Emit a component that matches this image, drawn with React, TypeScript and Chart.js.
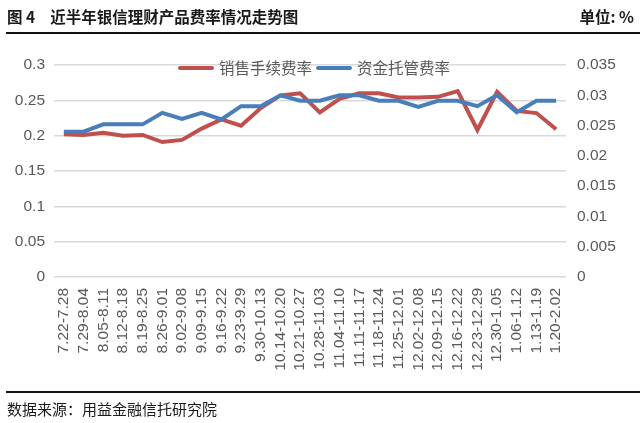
import React, { useEffect, useRef } from "react";
import { Chart, registerables } from "chart.js";

Chart.register(...registerables);

const categories = [
  "7.22-7.28", "7.29-8.04", "8.05-8.11", "8.12-8.18", "8.19-8.25", "8.26-9.01",
  "9.02-9.08", "9.09-9.15", "9.16-9.22", "9.23-9.29", "9.30-10.13", "10.14-10.20",
  "10.21-10.27", "10.28-11.03", "11.04-11.10", "11.11-11.17", "11.18-11.24",
  "11.25-12.01", "12.02-12.08", "12.09-12.15", "12.16-12.22", "12.23-12.29",
  "12.30-1.05", "1.06-1.12", "1.13-1.19", "1.20-2.02",
];

const salesFee = [
  0.202, 0.201, 0.204, 0.2, 0.201, 0.191, 0.194, 0.21, 0.223, 0.214, 0.239, 0.257,
  0.26, 0.233, 0.252, 0.26, 0.26, 0.254, 0.254, 0.255, 0.263, 0.208, 0.262, 0.235,
  0.232, 0.209,
];

const custodyFee = [
  0.024, 0.024, 0.0252, 0.0252, 0.0252, 0.0271, 0.0261, 0.0271, 0.026, 0.0282,
  0.0282, 0.03, 0.0291, 0.0291, 0.03, 0.03, 0.0291, 0.0291, 0.0281, 0.0291, 0.0291,
  0.0282, 0.03, 0.0272, 0.0291, 0.0291,
];

const seriesNames = ["销售手续费率", "资金托管费率"];
const titleText = "近半年银信理财产品费率情况走势图";
const unitText = "单位: %";
const sourceText = "数据来源：用益金融信托研究院";

const RED = "#c0504d";
const BLUE = "#4a7ebb";
const TICK_COLOR = "#595959";
const TICK_FONT = { family: "'Liberation Sans', Arial, sans-serif", size: 15.5 };
const LEGEND_FONT = "15.5px 'Noto Sans CJK SC', sans-serif";

const topLegend = {
  id: "topLegend",
  afterDatasetsDraw(chart: any) {
    const ctx = chart.ctx;
    const area = chart.chartArea;
    const items = chart.data.datasets.map((d: any) => ({ label: d.label, color: d.borderColor }));
    const lineW = 36;
    const gapText = 5;
    const gapItem = 4;
    ctx.save();
    ctx.font = LEGEND_FONT;
    const widths = items.map((it: any) => lineW + gapText + ctx.measureText(it.label).width);
    const total = widths.reduce((a: number, b: number) => a + b, 0) + gapItem * (items.length - 1);
    let x = (area.left + area.right) / 2 - total / 2 + 4;
    const y = area.top + 3;
    items.forEach((it: any, i: number) => {
      ctx.strokeStyle = it.color;
      ctx.lineWidth = 4;
      ctx.lineCap = "round";
      ctx.beginPath();
      ctx.moveTo(x + 2, y);
      ctx.lineTo(x + lineW - 2, y);
      ctx.stroke();
      ctx.fillStyle = TICK_COLOR;
      ctx.textBaseline = "middle";
      ctx.textAlign = "left";
      ctx.fillText(it.label, x + lineW + gapText, y);
      x += widths[i] + gapItem;
    });
    ctx.restore();
  },
};

export default function App() {
  const canvasRef = useRef<HTMLCanvasElement | null>(null);

  useEffect(() => {
    document.body.style.margin = "0";
    const canvas = canvasRef.current;
    if (!canvas) return;
    const chart = new Chart(canvas, {
      type: "line",
      data: {
        labels: categories,
        datasets: [
          {
            label: seriesNames[0],
            data: salesFee,
            borderColor: RED,
            backgroundColor: RED,
            borderWidth: 4,
            pointRadius: 0,
            tension: 0,
            yAxisID: "y",
            order: 1,
          },
          {
            label: seriesNames[1],
            data: custodyFee,
            borderColor: BLUE,
            backgroundColor: BLUE,
            borderWidth: 4,
            pointRadius: 0,
            tension: 0,
            yAxisID: "y1",
            order: 0,
          },
        ],
      },
      options: {
        animation: false,
        responsive: false,
        maintainAspectRatio: false,
        layout: { padding: { top: 65, left: 0, right: 0, bottom: 0 } },
        plugins: {
          tooltip: { enabled: false },
          legend: { display: false },
        },
        scales: {
          x: {
            offset: true,
            grid: { display: false },
            border: { display: false },
            ticks: {
              autoSkip: false,
              minRotation: 90,
              maxRotation: 90,
              color: TICK_COLOR,
              font: TICK_FONT,
              padding: 3,
            },
            afterFit: (s: any) => {
              s.height = 146;
            },
          },
          y: {
            position: "left",
            min: 0,
            max: 0.3,
            ticks: {
              stepSize: 0.05,
              color: TICK_COLOR,
              font: TICK_FONT,
              padding: 9,
              callback: (v: any) => String(Number(Number(v).toFixed(3))),
            },
            grid: { color: "#d9d9d9", lineWidth: 1.5, drawTicks: false },
            border: { display: false },
            afterFit: (s: any) => {
              s.width = 54;
            },
          },
          y1: {
            position: "right",
            min: 0,
            max: 0.035,
            ticks: {
              stepSize: 0.005,
              color: TICK_COLOR,
              font: TICK_FONT,
              padding: 11,
              callback: (v: any) => String(Number(Number(v).toFixed(3))),
            },
            grid: { display: false, drawTicks: false },
            border: { display: false },
            afterFit: (s: any) => {
              s.width = 74;
            },
          },
        },
      },
      plugins: [topLegend],
    });
    return () => chart.destroy();
  }, []);

  const cjk = "'Noto Sans CJK SC', sans-serif";

  return (
    <div style={{ position: "relative", width: 640, height: 423, background: "#fff", overflow: "hidden" }}>
      <canvas ref={canvasRef} width={640} height={423} style={{ position: "absolute", left: 0, top: 0 }} />
      <div
        style={{
          position: "absolute",
          left: 7,
          top: 4,
          fontFamily: cjk,
          fontWeight: 700,
          fontSize: 15.5,
          lineHeight: "24px",
          color: "#1a1a1a",
          whiteSpace: "nowrap",
        }}
      >
        <span>图 4</span>
        <span style={{ marginLeft: 15 }}>{titleText}</span>
      </div>
      <div
        style={{
          position: "absolute",
          right: 6,
          top: 4,
          fontFamily: cjk,
          fontWeight: 700,
          fontSize: 15.5,
          lineHeight: "24px",
          color: "#1a1a1a",
          whiteSpace: "nowrap",
        }}
      >
        {unitText}
      </div>
      <div style={{ position: "absolute", left: 6, right: 0, top: 32, height: 2, background: "#111" }} />
      <div style={{ position: "absolute", left: 6, right: 0, top: 391, height: 2, background: "#111" }} />
      <div
        style={{
          position: "absolute",
          left: 7,
          top: 397,
          fontFamily: cjk,
          fontSize: 15,
          lineHeight: "24px",
          color: "#1a1a1a",
          whiteSpace: "nowrap",
        }}
      >
        {sourceText}
      </div>
    </div>
  );
}
